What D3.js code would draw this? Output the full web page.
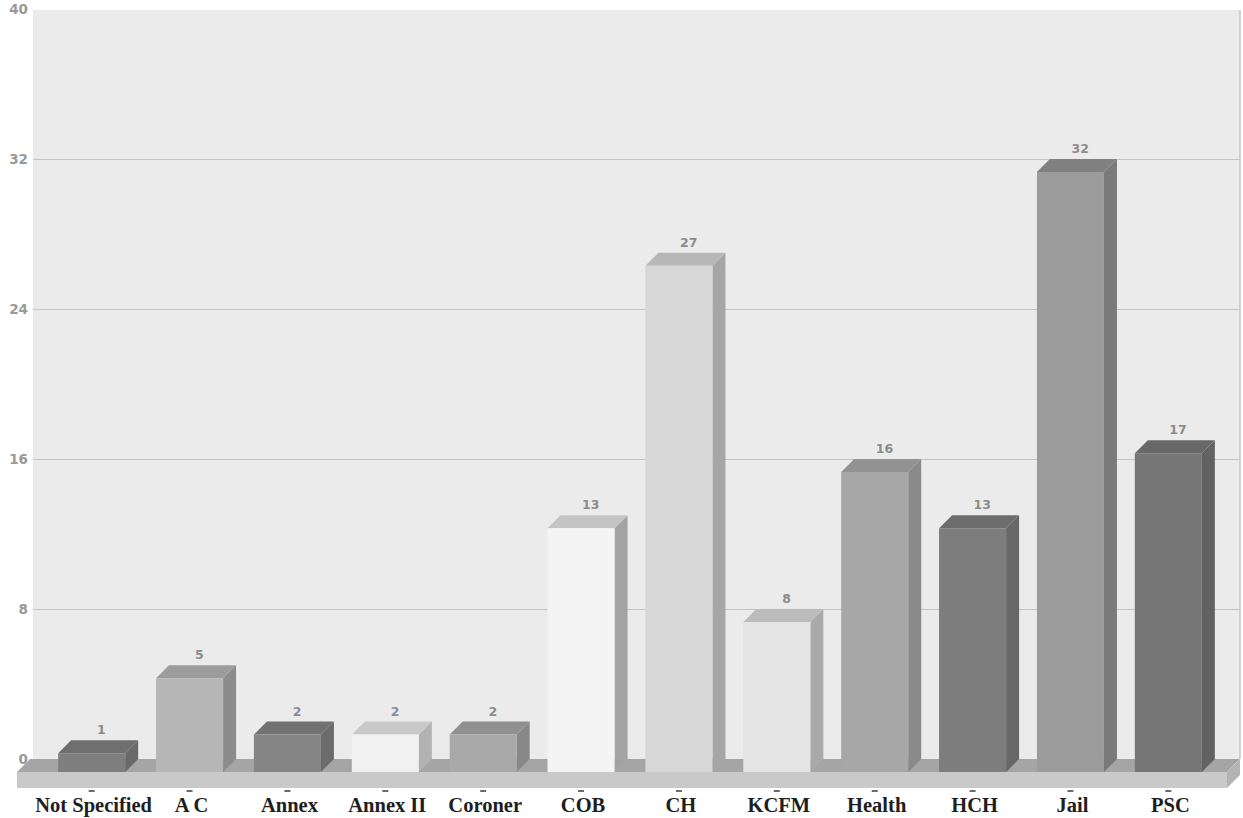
<!DOCTYPE html>
<html>
<head>
<meta charset="utf-8">
<script src="https://cdn.jsdelivr.net/npm/d3@7"></script>
<style>
  html, body { margin: 0; padding: 0; background: #ffffff; }
  svg { display: block; }
</style>
</head>
<body>
<svg id="chart" width="1243" height="818"></svg>
<script>
// Facilities and their counts
const categories = ["Not Specified", "A C", "Annex", "Annex II", "Coroner", "COB", "CH", "KCFM", "Health", "HCH", "Jail", "PSC"];
const counts = [1, 5, 2, 2, 2, 13, 27, 8, 16, 13, 32, 17];
const yTicks = [0, 8, 16, 24, 32, 40];
// Front / top / side shade of each bar
const frontShade = ["#7f7f7f", "#b6b6b6", "#858585", "#f1f1f1", "#a9a9a9", "#f4f4f4", "#d7d7d7", "#e5e5e5", "#a7a7a7", "#7d7d7d", "#9b9b9b", "#767676"];
const topShade   = ["#6f6f6f", "#9c9c9c", "#727272", "#c9c9c9", "#909090", "#c4c4c4", "#b7b7b7", "#bcbcbc", "#929292", "#6d6d6d", "#808080", "#686868"];
const sideShade  = ["#696969", "#8c8c8c", "#6c6c6c", "#b2b2b2", "#888888", "#a3a3a3", "#a6a6a6", "#a9a9a9", "#8a8a8a", "#676767", "#7a7a7a", "#626262"];

const data = categories.map((c, i) => ({ cat: c, v: counts[i], front: frontShade[i], top: topShade[i], side: sideShade[i] }));

const svg = d3.select("#chart");
const depthX = 13, depthY = 13;           // 3D offset of the back plane
const wallLeft = 33, wallRight = 1240, wallTop = 10;

const x = d3.scaleBand().domain(categories).range([19, 1241]).paddingInner(0.315).paddingOuter(0.4);
const y = d3.scaleLinear().domain([0, 40]).range([759, 9]);   // back wall
const yFront = v => y(v) + depthY;                            // front plane

// Back wall
svg.append("rect")
  .attr("x", wallLeft).attr("y", wallTop)
  .attr("width", wallRight - wallLeft).attr("height", y(0) - wallTop)
  .attr("fill", "#ebebeb");
svg.append("line")
  .attr("x1", wallRight).attr("x2", wallRight)
  .attr("y1", wallTop).attr("y2", y(0))
  .attr("stroke", "#c4c4c4").attr("stroke-width", 1.5);

// Gridlines on the wall
svg.append("g").selectAll("line")
  .data(yTicks.filter(t => t > 0 && t < 40))
  .join("line")
  .attr("x1", wallLeft).attr("x2", wallRight)
  .attr("y1", d => y(d) + 0.5).attr("y2", d => y(d) + 0.5)
  .attr("stroke", "#c3c3c3").attr("stroke-width", 1.2);

// Y axis labels
const yAxis = d3.axisLeft(y).tickValues(yTicks).tickSize(0).tickPadding(0);
const yg = svg.append("g").attr("transform", `translate(${wallLeft - 5},0)`).call(yAxis);
yg.select(".domain").remove();
yg.selectAll("text")
  .attr("font-family", "DejaVu Sans, sans-serif")
  .attr("font-size", 13.5).attr("font-weight", "bold")
  .attr("fill", "#999999");

// Floor slab
const floorL = 17, floorR = 1227, floorFront = y(0) + depthY, floorThick = 16;
svg.append("polygon")
  .attr("points", [[floorL, floorFront], [floorL + depthX, y(0)], [floorR + depthX, y(0)], [floorR, floorFront]].join(" "))
  .attr("fill", "#a5a5a5");
svg.append("rect")
  .attr("x", floorL).attr("y", floorFront)
  .attr("width", floorR - floorL).attr("height", floorThick)
  .attr("fill", "#c9c9c9");
svg.append("polygon")
  .attr("points", [[floorR, floorFront], [floorR + depthX, y(0)], [floorR + depthX, y(0) + floorThick], [floorR, floorFront + floorThick]].join(" "))
  .attr("fill", "#b3b3b3");

// Bars
const bars = svg.append("g").selectAll("g").data(data).join("g");
bars.append("polygon") // side
  .attr("points", d => {
    const x1 = x(d.cat) + x.bandwidth();
    return [[x1, yFront(d.v)], [x1 + depthX, y(d.v)], [x1 + depthX, y(0)], [x1, yFront(0)]].join(" ");
  })
  .attr("fill", d => d.side);
bars.append("polygon") // top
  .attr("points", d => {
    const x0 = x(d.cat), x1 = x0 + x.bandwidth();
    return [[x0, yFront(d.v)], [x0 + depthX, y(d.v)], [x1 + depthX, y(d.v)], [x1, yFront(d.v)]].join(" ");
  })
  .attr("fill", d => d.top);
bars.append("rect") // front
  .attr("x", d => x(d.cat))
  .attr("y", d => yFront(d.v))
  .attr("width", x.bandwidth())
  .attr("height", d => yFront(0) - yFront(d.v))
  .attr("fill", d => d.front);

// Value labels
svg.append("g").selectAll("text").data(data).join("text")
  .attr("x", d => x(d.cat) + x.bandwidth() / 2 + depthX * 0.75)
  .attr("y", d => y(d.v) - 6)
  .attr("text-anchor", "middle")
  .attr("font-family", "DejaVu Sans, sans-serif")
  .attr("font-size", 12.5).attr("font-weight", "bold")
  .attr("fill", "#8c8c8c")
  .text(d => d.v);

// Category ticks and labels
svg.append("g").selectAll("rect").data(data).join("rect")
  .attr("x", d => x(d.cat) + x.bandwidth() / 2 - 3)
  .attr("y", floorFront + floorThick + 2)
  .attr("width", 6).attr("height", 2)
  .attr("fill", "#6a6a6a");

svg.append("g").selectAll("text").data(data).join("text")
  .attr("x", d => x(d.cat) + x.bandwidth() / 2 + 2)
  .attr("y", 812)
  .attr("text-anchor", "middle")
  .attr("font-family", "Liberation Serif, Times New Roman, serif")
  .attr("font-size", 20.5).attr("font-weight", "bold")
  .attr("fill", "#1e1e1e")
  .text(d => d.cat);
</script>
</body>
</html>
